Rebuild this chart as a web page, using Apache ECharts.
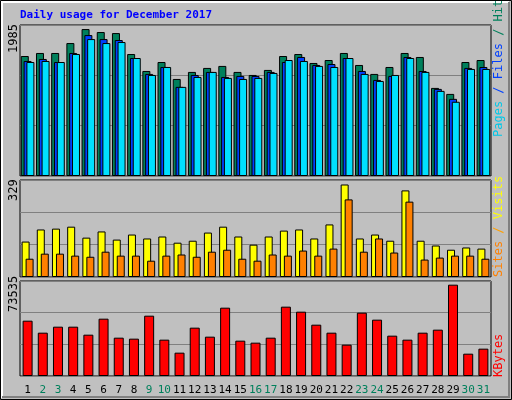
<!DOCTYPE html>
<html><head><meta charset="utf-8">
<script src="https://cdn.jsdelivr.net/npm/echarts@6/dist/echarts.min.js"></script>
<style>html,body{margin:0;padding:0;background:#c0c0c0}#c{width:512px;height:400px}</style>
</head><body><div id="c"></div>
<script>
const days = ['1','2','3','4','5','6','7','8','9','10','11','12','13','14','15','16','17','18','19','20','21','22','23','24','25','26','27','28','29','30','31'];
const weekend = ['2','3','9','10','16','17','23','24','30','31'];
const hits  = [1621,1662,1662,1796,1985,1945,1931,1648,1419,1540,1311,1406,1460,1487,1406,1365,1433,1621,1648,1527,1567,1662,1500,1379,1473,1662,1608,1190,1109,1540,1567];
const files = [1554,1581,1540,1662,1904,1850,1837,1594,1379,1473,1204,1365,1406,1338,1352,1352,1406,1540,1608,1500,1513,1594,1419,1298,1352,1608,1419,1177,1042,1460,1473];
const pages = [1540,1554,1540,1648,1850,1796,1810,1594,1365,1473,1204,1338,1406,1325,1311,1325,1392,1567,1554,1487,1473,1594,1379,1284,1365,1594,1406,1150,1003,1446,1446];
const sites = [126,169,172,179,140,162,133,151,137,144,122,129,158,179,144,115,144,165,169,137,187,329,137,151,129,308,129,112,97,105,101];
const visits= [65,83,83,76,72,90,76,76,58,76,80,72,90,97,65,58,80,76,94,76,101,276,90,137,87,268,62,69,76,76,65];
const kbytes= [44550,34890,39720,39720,33280,46160,30860,30060,48580,29260,18790,38920,31670,55020,28450,26840,30860,55830,51800,41330,34890,25230,51000,45360,32480,29260,34890,37310,73535,17980,22010];
const maxLabels = ['1985','329','73535'];

const chart = echarts.init(document.getElementById('c'));
const mono = 'DejaVu Sans Mono';
const grids = [
  {left:20,right:21,top:25,height:151},
  {left:20,right:21,top:180,height:97},
  {left:20,right:21,top:281,height:95}
].map(g=>Object.assign(g,{show:true,borderColor:'#000',borderWidth:1}));
function xa(i,show){return {type:'category',gridIndex:i,data:days,axisTick:{show:false},axisLine:{show:false},
  axisLabel:{show:show,interval:0,margin:9,fontFamily:mono,fontSize:11,formatter:v=>weekend.includes(v)?'{w|'+v+'}':'{n|'+v+'}',
  rich:{w:{color:'#00805c',fontFamily:mono,fontSize:11},n:{color:'#000',fontFamily:mono,fontSize:11}}}};}
function ya(i,max){return {type:'value',gridIndex:i,min:0,max:max,interval:max/3,axisLabel:{show:false},axisLine:{show:false},axisTick:{show:false},
  splitLine:{lineStyle:{color:'#808080',width:1}}};}
const bs = {borderColor:'#000',borderWidth:1};
function bar(name,data,xi,color,w,gap){return {name,type:'bar',xAxisIndex:xi,yAxisIndex:xi,data,barWidth:w,barGap:gap,
  itemStyle:Object.assign({color},bs),silent:true,animation:false};}
function vtext(x,y,parts){ // rotated text bottom-to-top, y = bottom end
  return {type:'text',x:x,y:y,rotation:Math.PI/2,style:{text:parts.map(p=>'{'+p[1]+'|'+p[0]+'}').join(''),
    rich:Object.fromEntries(parts.map(p=>[p[1],{fill:p[2],font:'12px '+mono}])),verticalAlign:'middle',align:'left'}};
}
chart.setOption({
  backgroundColor:'#c0c0c0',
  animation:false,
  grid:grids,
  xAxis:[xa(0,false),xa(1,false),xa(2,true)],
  yAxis:[ya(0,2040),ya(1,345),ya(2,76500)],
  series:[
    bar('Hits',hits,0,'#00805c',8,'-65%'),
    bar('Files',files,0,'#0040ff',8,'-65%'),
    bar('Pages',pages,0,'#00e0ff',8,'-65%'),
    bar('Sites',sites,1,'#ffff00',8,'-50%'),
    bar('Visits',visits,1,'#ff8000',8,'-50%'),
    bar('KBytes',kbytes,2,'#ff0000',10,'0%')
  ],
  graphic:[
    {type:'rect',shape:{x:0.5,y:0.5,width:511,height:399},style:{fill:null,stroke:'#000',lineWidth:1}},
    {type:'polyline',shape:{points:[[2,398],[2,2],[509,2]]},style:{stroke:'#fff',lineWidth:2,fill:null}},
    {type:'polyline',shape:{points:[[2,397],[509,397],[509,2]]},style:{stroke:'#808080',lineWidth:2,fill:null}},
    {type:'text',x:20,y:15,style:{text:'Daily usage for December 2017',fill:'#0000ff',font:'bold 11px '+mono,verticalAlign:'middle'}},
    vtext(14,53,[[maxLabels[0],'a','#000']]),
    vtext(14,201,[[maxLabels[1],'a','#000']]),
    vtext(14,312,[[maxLabels[2],'a','#000']]),
    vtext(499,137,[['Pages','p','#00c8e8'],[' / ','t','#0040ff'],['Files','f','#0040ff'],[' / ','s','#00805c'],['Hits','h','#00805c']]),
    vtext(499,277,[['Sites','i','#ff8000'],[' / ','s','#ffa000'],['Visits','v','#ffff00']]),
    vtext(499,377,[['KBytes','k','#ff0000']])
  ]
});
</script></body></html>
